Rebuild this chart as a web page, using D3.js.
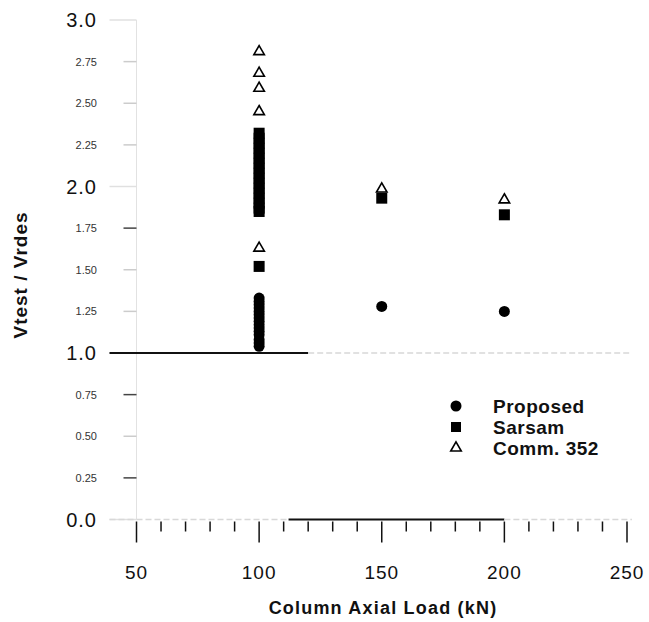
<!DOCTYPE html>
<html>
<head>
<meta charset="utf-8">
<script src="https://cdn.jsdelivr.net/npm/d3@7"></script>
<style>
  body { margin: 0; background: #fff; }
  svg text { font-family: "Liberation Sans", Arial, sans-serif; fill: #111; }
</style>
</head>
<body>
<div id="chart"></div>
<script>
// data
var proposedLoad  = [100, 100, 100, 100, 100, 100, 100, 100, 100, 100, 100, 100, 100, 100, 100, 150, 200];
var proposedRatio = [1.04, 1.06, 1.08, 1.11, 1.13, 1.15, 1.17, 1.19, 1.21, 1.23, 1.25, 1.27, 1.29, 1.31, 1.33, 1.28, 1.25];

var sarsamLoad  = [100, 100, 100, 100, 100, 100, 100, 100, 100, 100, 100, 100, 100, 100, 100, 100, 100, 100, 150, 200];
var sarsamRatio = [1.52, 1.85, 1.87, 1.90, 1.93, 1.96, 1.99, 2.02, 2.05, 2.08, 2.11, 2.14, 2.17, 2.20, 2.23, 2.26, 2.29, 2.32, 1.93, 1.83];

var commLoad  = [100, 100, 100, 100, 100, 150, 200];
var commRatio = [1.63, 2.45, 2.59, 2.68, 2.81, 1.985, 1.92];

var xMajor = [50, 100, 150, 200, 250];
var xMinor = [60, 70, 80, 90, 110, 120, 130, 140, 160, 170, 180, 190, 210, 220, 230, 240];
var yMajor = [0, 1, 2, 3];
var yMinor = [0.25, 0.5, 0.75, 1.25, 1.5, 1.75, 2.25, 2.5, 2.75];
var legendNames = ["Proposed", "Sarsam", "Comm. 352"];

var width = 649, height = 622;

var svg = d3.select("#chart")
  .append("svg")
  .attr("width", width)
  .attr("height", height);

var x = d3.scaleLinear().domain([50, 250]).range([136.5, 627]);
var y = d3.scaleLinear().domain([0, 3]).range([519.5, 20]);

// faint y axis line
svg.append("line")
  .attr("x1", x(50)).attr("x2", x(50))
  .attr("y1", y(3)).attr("y2", y(0))
  .attr("stroke", "#e2e2e2")
  .attr("stroke-width", 1);

// y ticks
svg.selectAll(".yminor")
  .data(yMinor)
  .enter().append("line")
  .attr("x1", x(50) - 13).attr("x2", x(50))
  .attr("y1", function(d) { return y(d); })
  .attr("y2", function(d) { return y(d); })
  .attr("stroke", function(d) { return (d == 1.75 || d == 0.75 || d == 0.25) ? "#444" : "#ccc"; })
  .attr("stroke-width", 1.5);

svg.selectAll(".ymajor")
  .data(yMajor)
  .enter().append("line")
  .attr("x1", x(50) - 27).attr("x2", x(50))
  .attr("y1", function(d) { return y(d); })
  .attr("y2", function(d) { return y(d); })
  .attr("stroke", "#e0e0e0")
  .attr("stroke-width", 1.5);

// y tick labels
svg.selectAll(".ymajlab")
  .data(yMajor)
  .enter().append("text")
  .attr("x", 97)
  .attr("y", function(d) { return y(d) + 7; })
  .attr("text-anchor", "end")
  .style("font-size", "20px")
  .style("letter-spacing", "1px")
  .text(function(d) { return d3.format(".1f")(d); });

svg.selectAll(".yminlab")
  .data(yMinor)
  .enter().append("text")
  .attr("x", 97)
  .attr("y", function(d) { return y(d) + 4; })
  .attr("text-anchor", "end")
  .style("font-size", "11px")
  .style("fill", "#333")
  .text(function(d) { return d3.format(".2f")(d); });

// reference line at 1.0 (solid part, then faded)
svg.append("line")
  .attr("x1", x(50) - 27).attr("x2", x(120))
  .attr("y1", y(1)).attr("y2", y(1))
  .attr("stroke", "#111").attr("stroke-width", 2);
svg.append("line")
  .attr("x1", x(120)).attr("x2", x(252))
  .attr("y1", y(1)).attr("y2", y(1))
  .attr("stroke", "#d8d8d8").attr("stroke-width", 1.5)
  .attr("stroke-dasharray", "6,3");

// x axis line at 0
svg.append("line")
  .attr("x1", x(50) - 27).attr("x2", x(112))
  .attr("y1", y(0)).attr("y2", y(0))
  .attr("stroke", "#d8d8d8").attr("stroke-width", 1.5)
  .attr("stroke-dasharray", "6,3");
svg.append("line")
  .attr("x1", x(112)).attr("x2", x(200))
  .attr("y1", y(0)).attr("y2", y(0))
  .attr("stroke", "#111").attr("stroke-width", 2);
svg.append("line")
  .attr("x1", x(200)).attr("x2", x(252))
  .attr("y1", y(0)).attr("y2", y(0))
  .attr("stroke", "#d8d8d8").attr("stroke-width", 1.5)
  .attr("stroke-dasharray", "6,3");

// x ticks
svg.selectAll(".xmajor")
  .data(xMajor)
  .enter().append("line")
  .attr("x1", function(d) { return x(d); })
  .attr("x2", function(d) { return x(d); })
  .attr("y1", y(0) + 2).attr("y2", y(0) + 23)
  .attr("stroke", "#111").attr("stroke-width", 1.5);

svg.selectAll(".xminor")
  .data(xMinor)
  .enter().append("line")
  .attr("x1", function(d) { return x(d); })
  .attr("x2", function(d) { return x(d); })
  .attr("y1", y(0) + 2).attr("y2", y(0) + 12)
  .attr("stroke", "#111").attr("stroke-width", 1.5);

svg.selectAll(".xlab")
  .data(xMajor)
  .enter().append("text")
  .attr("x", function(d) { return x(d); })
  .attr("y", 579)
  .attr("text-anchor", "middle")
  .style("font-size", "19px")
  .style("letter-spacing", "1px")
  .text(function(d) { return d; });

// axis titles
svg.append("text")
  .attr("text-anchor", "middle")
  .attr("transform", "translate(383,614)")
  .style("font-size", "18px")
  .style("font-weight", "bold")
  .style("letter-spacing", "1.2px")
  .text("Column Axial Load (kN)");

svg.append("text")
  .attr("text-anchor", "middle")
  .attr("transform", "translate(27,275)rotate(-90)")
  .style("font-size", "19px")
  .style("font-weight", "bold")
  .style("letter-spacing", "1px")
  .text("Vtest / Vrdes");

// points
var tri = d3.symbol().type(d3.symbolTriangle).size(48);

svg.selectAll(".proposed")
  .data(proposedLoad)
  .enter().append("circle")
  .attr("cx", function(d) { return x(d); })
  .attr("cy", function(d, i) { return y(proposedRatio[i]); })
  .attr("r", 5.5)
  .attr("fill", "#000");

svg.selectAll(".sarsam")
  .data(sarsamLoad)
  .enter().append("rect")
  .attr("x", function(d) { return x(d) - 5.5; })
  .attr("y", function(d, i) { return y(sarsamRatio[i]) - 5.5; })
  .attr("width", 11)
  .attr("height", 11)
  .attr("fill", "#000");

svg.selectAll(".comm")
  .data(commLoad)
  .enter().append("path")
  .attr("d", tri)
  .attr("transform", function(d, i) { return "translate(" + x(d) + "," + y(commRatio[i]) + ")"; })
  .attr("fill", "#fff")
  .attr("stroke", "#000")
  .attr("stroke-width", 1.6);

// legend
var legend = svg.append("g").attr("transform", "translate(456,406)");
var rowGap = 21;

legend.append("circle").attr("cx", 0).attr("cy", 0).attr("r", 5.5).attr("fill", "#000");
legend.append("rect").attr("x", -5).attr("y", rowGap - 5).attr("width", 10).attr("height", 10).attr("fill", "#000");
legend.append("path").attr("d", tri)
  .attr("transform", "translate(0," + rowGap * 2 + ")")
  .attr("fill", "#fff").attr("stroke", "#000").attr("stroke-width", 1.6);

legend.selectAll(".legtext")
  .data(legendNames)
  .enter().append("text")
  .attr("x", 37)
  .attr("y", function(d, i) { return i * rowGap + 7; })
  .style("font-size", "19px")
  .style("font-weight", "bold")
  .style("letter-spacing", "0.5px")
  .text(function(d) { return d; });
</script>
</body>
</html>
